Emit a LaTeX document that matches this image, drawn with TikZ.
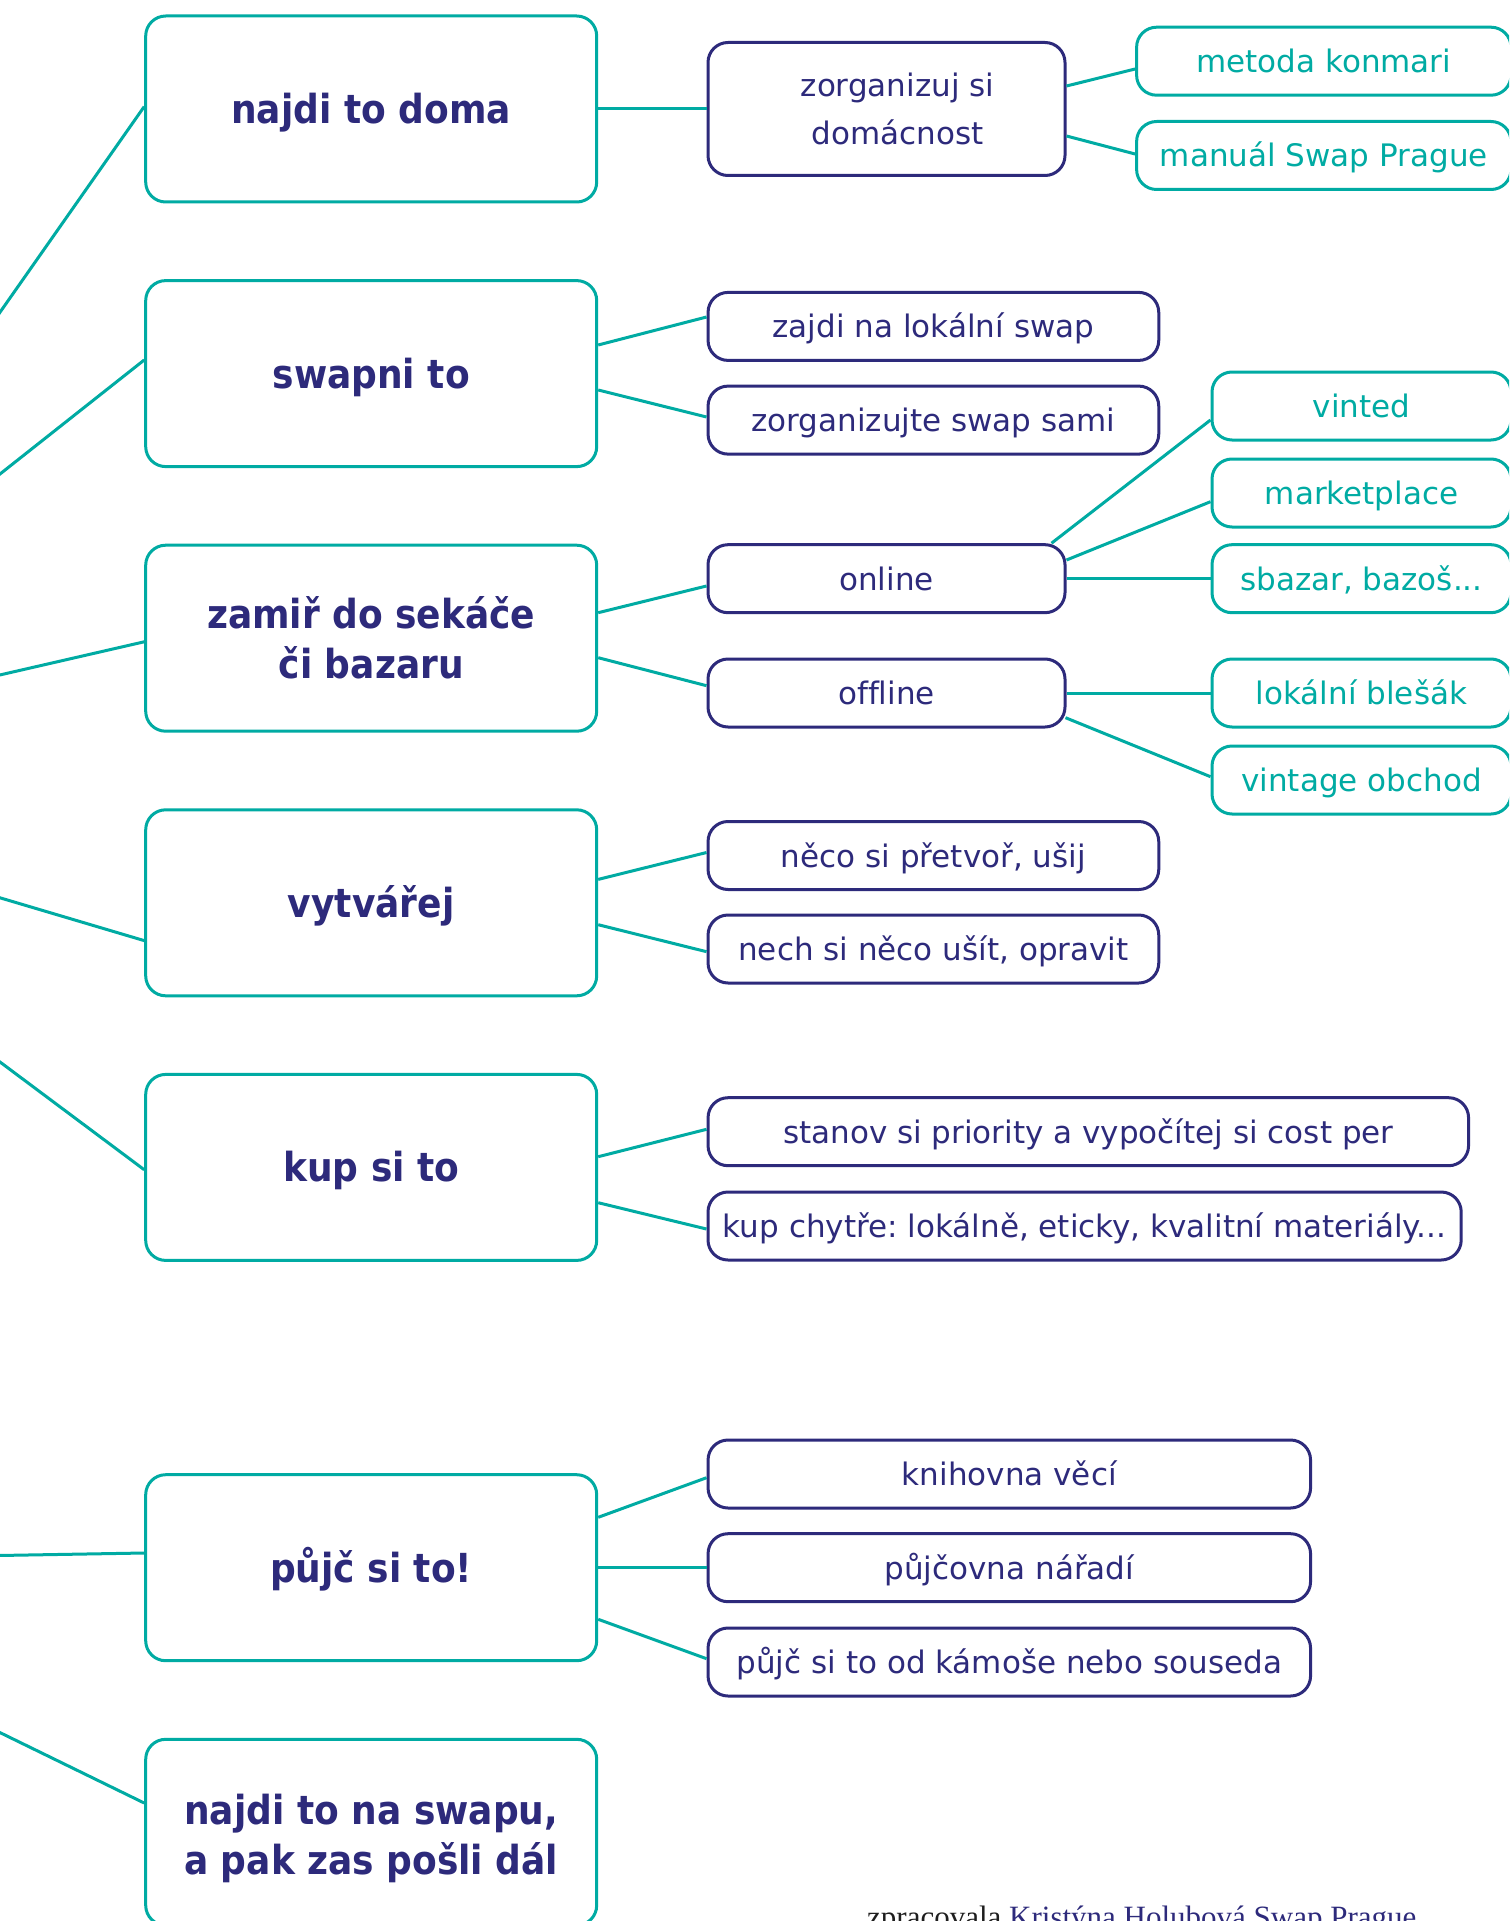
\documentclass[tikz,border=0pt]{standalone}
\usepackage{fontspec}
\setmainfont{DejaVu Sans}
\newfontfamily\headfont{DejaVu Sans}[FakeStretch=0.9]
\newfontfamily\footfont{Liberation Serif}
\usetikzlibrary{calc}
\definecolor{mmNavy}{RGB}{45,42,123}
\definecolor{mmTeal}{RGB}{0,171,163}
\definecolor{mmInk}{RGB}{30,30,30}
\tikzset{
  mainbox/.style={draw=mmTeal, line width=3pt, rounded corners=20pt, fill=white,
    minimum width=451pt, minimum height=186pt, inner sep=0pt, text=mmNavy,
    font=\headfont\bfseries\fontsize{40}{50}\selectfont},
  oneline/.style={text height=34pt, text depth=5pt},
  twoline/.style={align=center},
  subbox/.style={draw=mmNavy, line width=3pt, rounded corners=20pt, fill=white,
    minimum height=68pt, inner sep=0pt, text=mmNavy,
    font=\fontsize{31}{48.7}\selectfont, text height=27pt, text depth=4pt},
  leafbox/.style={draw=mmTeal, line width=3pt, rounded corners=20pt, fill=white,
    minimum height=68pt, inner sep=0pt, text=mmTeal,
    font=\fontsize{31}{48.7}\selectfont, text height=27pt, text depth=4pt},
  conn/.style={draw=mmTeal, line width=3pt}
}
\frenchspacing
\begin{document}
\frenchspacing
\begin{tikzpicture}[x=1pt,y=-1pt]
\useasboundingbox (0,0) rectangle (1509,1921);
\fill[white] (0,0) rectangle (1509,1921);
\clip (0,0) rectangle (1509,1921);

% main boxes
\node[mainbox,oneline] (A) at (371.2,109) {najdi to doma};
\node[mainbox,oneline] (B) at (371.2,373.6) {swapni to};
\node[mainbox,twoline] (C) at (371.2,638.2) {zamiř do sekáče\\či bazaru};
\node[mainbox,oneline] (D) at (371.2,902.8) {vytvářej};
\node[mainbox,oneline] (E) at (371.2,1167.4) {kup si to};
\node[mainbox,oneline] (F) at (371.2,1567.7) {půjč si to!};
\node[mainbox,twoline] (G) at (371.2,1832.3) {\rule{0pt}{43pt}najdi to na swapu,\\a pak zas pošli dál};

% sub boxes
\node[subbox,minimum width=357pt,minimum height=133pt,align=center,text height=,text depth=] (zorg) at (886.5,109) {\hspace*{22pt}zorganizuj si\\\hspace*{22pt}domácnost};
\node[subbox,minimum width=450.7pt] (zajdi) at (933.4,326.4) {zajdi na lokální swap};
\node[subbox,minimum width=450.7pt] (zswap) at (933.4,420.1) {zorganizujte swap sami};
\node[subbox,minimum width=357pt] (online) at (886.5,578.7) {online};
\node[subbox,minimum width=357pt] (offline) at (886.5,693) {of\kern0pt f\kern0pt line};
\node[subbox,minimum width=450.7pt] (neco) at (933.4,855.5) {něco si přetvoř, ušij};
\node[subbox,minimum width=450.7pt] (nech) at (933.4,949) {nech si něco ušít, opravit};
\node[subbox,minimum width=760.5pt] (stanov) at (1088.3,1131.7) {stanov si priority a vypočítej si cost per};
\node[subbox,minimum width=753.2pt] (kupch) at (1084.6,1226) {kup chytře: lokálně, eticky, kvalitní materiály...};
\node[subbox,minimum width=602.5pt] (knih) at (1009.3,1474) {knihovna věcí};
\node[subbox,minimum width=602.5pt] (pujcovna) at (1009.3,1567.7) {půjčovna nářadí};
\node[subbox,minimum width=602.5pt] (pujcod) at (1009.3,1662) {půjč si to od kámoše nebo souseda};

% leaf boxes
\node[leafbox,minimum width=374.4pt] (metoda) at (1323.8,61.2) {metoda konmari};
\node[leafbox,minimum width=374.4pt] (manual) at (1323.8,155.5) {manuál Swap Prague};
\node[leafbox,minimum width=299pt] (vinted) at (1361.5,406) {vinted};
\node[leafbox,minimum width=299pt] (market) at (1361.5,493) {marketplace};
\node[leafbox,minimum width=299pt] (sbazar) at (1361.5,578.7) {sbazar, bazoš...};
\node[leafbox,minimum width=299pt] (lokal) at (1361.5,693) {lokální blešák};
\node[leafbox,minimum width=299pt] (vintage) at (1361.5,780) {vintage obchod};

% free ends at the left edge
\coordinate (lA) at (-2,315.1);
\coordinate (lB) at (-2,475.6);
\coordinate (lC) at (-2,675.4);
\coordinate (lD) at (-2,897.2);
\coordinate (lE) at (-2,1060.5);
\coordinate (lF) at (-2,1555.5);
\coordinate (lG) at (-2,1731.6);

% left connectors
\draw[conn] (lA) -- ($(A.west)+(0,-2.4)$);
\draw[conn] (lB) -- ($(B.west)+(0,-13.6)$);
\draw[conn] (lC) -- ($(C.west)+(0,3.6)$);
\draw[conn] (lD) -- ($(D.west)+(0,37.8)$);
\draw[conn] (lE) -- ($(E.west)+(0,2.3)$);
\draw[conn] (lF) -- ($(F.west)+(0,-14.7)$);
\draw[conn] (lG) -- ($(G.west)+(0,-29.3)$);

% main -> sub
\draw[conn] (A.east) -- (zorg.west);
\draw[conn] ($(B.east)+(0,-28.6)$) -- ($(zajdi.west)+(0,-9.4)$);
\draw[conn] ($(B.east)+(0,16.4)$) -- ($(zswap.west)+(0,-3.1)$);
\draw[conn] ($(C.east)+(0,-25.5)$) -- ($(online.west)+(0,7.3)$);
\draw[conn] ($(C.east)+(0,19.5)$) -- ($(offline.west)+(0,-7.3)$);
\draw[conn] ($(D.east)+(0,-23.4)$) -- ($(neco.west)+(0,-3)$);
\draw[conn] ($(D.east)+(0,21.9)$) -- ($(nech.west)+(0,2.7)$);
\draw[conn] ($(E.east)+(0,-10.7)$) -- ($(stanov.west)+(0,-2.4)$);
\draw[conn] ($(E.east)+(0,35.3)$) -- ($(kupch.west)+(0,3)$);
\draw[conn] ($(F.east)+(0,-50.4)$) -- ($(knih.west)+(0,3.7)$);
\draw[conn] (F.east) -- (pujcovna.west);
\draw[conn] ($(F.east)+(0,51.6)$) -- ($(pujcod.west)+(0,-3.3)$);

% sub -> leaf
\draw[conn] ($(zorg.east)+(0,-23)$) -- ($(metoda.west)+(0,7.8)$);
\draw[conn] ($(zorg.east)+(0,27)$) -- ($(manual.west)+(0,-1.5)$);
\draw[conn] ($(online.north east)+(-15,0)$) -- ($(vinted.west)+(0,14)$);
\draw[conn] ($(online.east)+(0,-18.7)$) -- ($(market.west)+(0,8.7)$);
\draw[conn] (online.east) -- (sbazar.west);
\draw[conn] (offline.east) -- (lokal.west);
\draw[conn] ($(offline.east)+(-1,24.7)$) -- ($(vintage.west)+(0,-3.3)$);

% credit
\node[anchor=base west, inner sep=0pt, font=\footfont\fontsize{31}{37}\selectfont] (credit) at (867,1927)
  {\textcolor{mmInk}{zpracovala} \textcolor{mmNavy}{\underline{Kristýna Holubová Swap Prague}}};
\end{tikzpicture}
\end{document}
